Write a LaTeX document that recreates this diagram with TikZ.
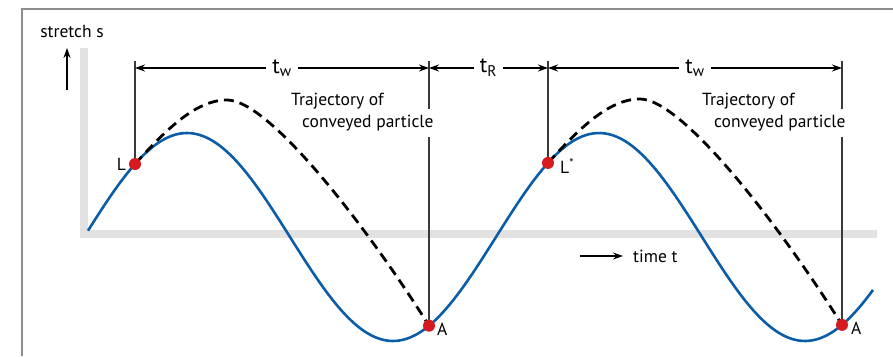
\documentclass[tikz,border=0pt]{standalone}
\usepackage{fontspec}
\setmainfont{PT Sans}
\usetikzlibrary{arrows.meta}
\definecolor{waveblue}{HTML}{0B5DA8}
\definecolor{dotred}{HTML}{D71920}
\definecolor{bandgray}{HTML}{E2E2E2}
\definecolor{framegray}{HTML}{8C8C8C}
\definecolor{linegray}{HTML}{3A3A3A}

\begin{document}
\begin{tikzpicture}[x=1pt, y=-1pt,
    txt/.style={inner sep=0, font=\fontsize{17.5}{21}\selectfont},
    guide/.style={linegray, line width=1.2pt},
    band/.style={bandgray, line width=8pt},
    traj/.style={black, line width=2.8pt, dash pattern=on 10pt off 6pt},
    axarrow/.style={black, line width=1.2pt, -{Stealth[length=10pt,width=7pt]}},
    dimarrow/.style={black, line width=1.2pt, {Stealth[length=10pt,width=7pt]}-{Stealth[length=10pt,width=7pt]}},
    tlabel/.style={fill=white, inner xsep=6pt, inner ysep=2pt, font=\fontsize{22}{24}\selectfont}]
    \useasboundingbox (0,0) rectangle (893,356);
    \draw[framegray, line width=2pt] (22,356) -- (22,9) -- (893,9);

    % axes
    \draw[band] (84,48) -- (84,237.5);
    \draw[band] (80,233.5) -- (877,233.5);
    \node[txt] (ylbl) at (72,31) {stretch s};
    \coordinate (yfrom) at (67,90);
    \coordinate (yto) at (67,48);
    \draw[axarrow] (yfrom) -- (yto);
    \coordinate (tfrom) at (580,256);
    \coordinate (tto) at (623,256);
    \draw[axarrow] (tfrom) -- (tto);
    \node[txt, anchor=west] (xlbl) at (633,256) {time t};

    % stretch of the trough
    \draw[waveblue, line width=2.6pt] plot[domain=88:873, samples=200, smooth] (\x, {237-104*cos((\x-187)*0.87379)});
    \coordinate (L) at (135,{237-104*cos((135-187)*0.87379)});
    \coordinate (A) at (429,{237-104*cos((429-187)*0.87379)});
    \coordinate (Ls) at (548,{237-104*cos((548-187)*0.87379)});
    \coordinate (A2) at (842,{237-104*cos((842-187)*0.87379)});

    % flight of the particle
    \draw[traj] (L) .. controls (165,131) and (195,100) .. (227,100) .. controls (270,100) and (369,230) .. (A);
    \draw[traj] (Ls) .. controls (578,130) and (608,99) .. (640,99) .. controls (683,99) and (782,229) .. (A2);

    \coordinate (Ltop) at (135,61);
    \coordinate (Atop) at (429,61);
    \coordinate (Lstop) at (548,61);
    \coordinate (A2top) at (842,61);
    \draw[guide] (Ltop) -- (L);
    \draw[guide] (Atop) -- (A);
    \draw[guide] (Lstop) -- (Ls);
    \draw[guide] (A2top) -- (A2);

    \coordinate (dL) at (135,68);
    \coordinate (dA) at (429,68);
    \coordinate (dLs) at (548,68);
    \coordinate (dA2) at (842,68);
    \draw[dimarrow] (dL) -- (dA) node[midway, tlabel] (tw1) {t\textsubscript{w}};
    \draw[dimarrow] (dA) -- (dLs) node[midway, tlabel] (tr) {t\textsubscript{R}};
    \draw[dimarrow] (dLs) -- (dA2) node[midway, tlabel] (tw2) {t\textsubscript{w}};

    \node[txt, anchor=base west] (traj1) at (291,105) {Trajectory of};
    \node[txt, anchor=base west, fill=white, inner ysep=6pt] (conv1) at (302,127) {conveyed particle};
    \node[txt, anchor=base west] (traj2) at (702,105) {Trajectory of};
    \node[txt, anchor=base west, fill=white, inner ysep=6pt] (conv2) at (714,127) {conveyed particle};

    \fill[dotred] (L) circle (6pt);
    \fill[dotred] (A) circle (6pt);
    \fill[dotred] (Ls) circle (6pt);
    \fill[dotred] (A2) circle (6pt);
    \node[txt, anchor=east] (Llbl) at (126,164) {L};
    \node[txt, anchor=west] (Albl) at (437,329) {A};
    \node[txt, anchor=west] (Lslbl) at (560,166) {L\textsuperscript{*}};
    \node[txt, anchor=west] (A2lbl) at (851,328) {A};
\end{tikzpicture}
\end{document}
